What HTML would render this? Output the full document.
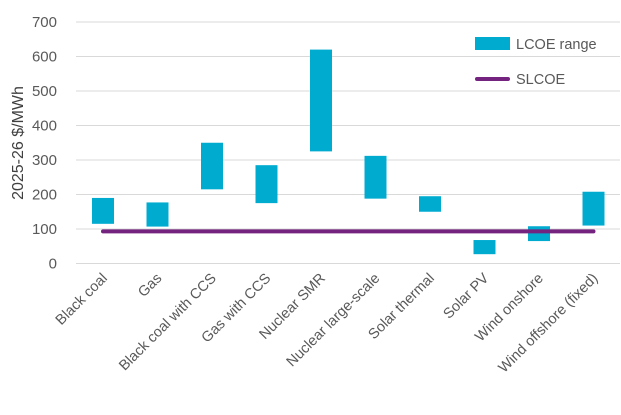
<!DOCTYPE html>
<html><head><meta charset="utf-8"><style>
body{margin:0;background:#fff;}
svg text{font-family:"Liberation Sans",sans-serif;fill:#595959;}
</style></head><body>
<svg width="621" height="410" id="c"></svg>
<script>
const categories=["Black coal","Gas","Black coal with CCS","Gas with CCS","Nuclear SMR","Nuclear large-scale","Solar thermal","Solar PV","Wind onshore","Wind offshore (fixed)"];
const lowValues=[115,107,215,175,325,188,150,27,65,110];
const highValues=[190,177,350,285,620,312,195,68,108,208];
const slcoe=93;
const yTicks=[0,100,200,300,400,500,600,700];
const NS="http://www.w3.org/2000/svg";
const svg=document.getElementById('c');
const y0=263.5,yTop=22,yMax=700;
const y=v=>y0-(v/yMax)*(y0-yTop);
const x=i=>103+i*54.5;
function mk(t,a){const e=document.createElementNS(NS,t);for(const k in a)e.setAttribute(k,a[k]);svg.appendChild(e);return e;}
yTicks.forEach(t=>{
 const g=mk('line',{x1:76,x2:620,y1:y(t),y2:y(t),stroke:'#d9d9d9','stroke-width':1});
 
 
 const l=mk('text',{x:57,y:y(t)+5,'text-anchor':'end','font-size':15});
 l.textContent=t;
 
 
});
categories.forEach((c,i)=>{
 const r=mk('rect',{x:x(i)-11,y:y(highValues[i]),width:22,height:y(lowValues[i])-y(highValues[i]),fill:'#00abd0'});
 
 
 const t=mk('text',{x:0,y:0,'text-anchor':'end','font-size':14.5,transform:`translate(${x(i)+5},${279}) rotate(-45)`});
 t.textContent=c;
 
 
});
const ln=mk('line',{x1:x(0),x2:x(categories.length-1),y1:y(slcoe),y2:y(slcoe),stroke:'#74237f','stroke-width':4,'stroke-linecap':'round'});


const yt=mk('text',{x:0,y:0,'text-anchor':'middle','font-size':16,transform:'translate(23,143) rotate(-90)',style:'fill:#404040'});
yt.textContent='2025-26 $/MWh';


const lr=mk('rect',{x:475,y:37,width:35,height:13,fill:'#00abd0'});


const lt=mk('text',{x:516,y:49,'font-size':14.5});
lt.textContent='LCOE range';


const ll=mk('line',{x1:477,x2:508,y1:79,y2:79,stroke:'#74237f','stroke-width':4,'stroke-linecap':'round'});


const lt2=mk('text',{x:516,y:84,'font-size':14.5});
lt2.textContent='SLCOE';


</script>
</body></html>
